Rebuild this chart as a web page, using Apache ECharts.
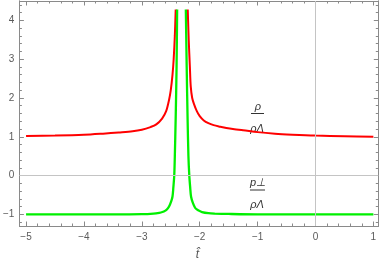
<!DOCTYPE html>
<html>
<head>
<meta charset="utf-8">
<script src="https://cdn.jsdelivr.net/npm/echarts@6/dist/echarts.min.js"></script>
<style>
html,body{margin:0;padding:0;background:#fff;}
#c{width:382px;height:266px;}
</style>
</head>
<body>
<div id="c"></div>
<script>
// ---- data ----
const redLeftT  = [-5.0,-4.5,-4.0,-3.67,-3.4,-3.16,-3.0,-2.85,-2.75,-2.65,-2.58,-2.53,-2.5,-2.47,-2.45,-2.43,-2.415];
const redLeftV  = [1.02,1.03,1.05,1.08,1.11,1.14,1.18,1.25,1.32,1.47,1.66,1.95,2.2,2.6,3.0,3.6,4.28];
const redRightT = [-2.207,-2.19,-2.17,-2.155,-2.13,-2.10,-2.05,-2.0,-1.93,-1.85,-1.76,-1.65,-1.54,-1.4,-1.25,-1.0,-0.7,-0.4,0,0.5,1.0];
const redRightV = [4.28,3.5,2.8,2.3,2.0,1.85,1.66,1.53,1.42,1.35,1.30,1.26,1.225,1.195,1.17,1.12,1.08,1.055,1.03,1.013,1.0];
const greenLeftT  = [-5.0,-3.5,-3.0,-2.8,-2.7,-2.645,-2.6,-2.56,-2.53,-2.49,-2.47,-2.455,-2.44,-2.43,-2.415,-2.40,-2.39];
const greenLeftV  = [-1.0,-1.0,-0.995,-0.98,-0.96,-0.94,-0.91,-0.86,-0.80,-0.65,-0.54,-0.3,0.0,0.5,1.5,2.8,4.28];
const greenRightT = [-2.24,-2.225,-2.21,-2.195,-2.18,-2.165,-2.15,-2.12,-2.08,-2.05,-2.02,-1.96,-1.85,-1.74,-1.5,-1.0,1.0];
const greenRightV = [4.28,2.8,1.5,0.5,0.0,-0.3,-0.54,-0.70,-0.83,-0.87,-0.90,-0.94,-0.97,-0.98,-0.99,-1.0,-1.0];
const xTicks = [-5,-4,-3,-2,-1,0,1];
const yTicks = [-1,0,1,2,3,4];
const xMinor = [];
for (let i = -25; i <= 5; i++) if (i % 5 !== 0) xMinor.push(+(i*0.2).toFixed(1));
const yMinor = [];
for (let i = -6; i <= 22; i++) if (i % 5 !== 0) yMinor.push(+(i*0.2).toFixed(1));

function pairs(t, v){ return t.map((x,i)=>[x, v[i]]); }
const redData = pairs(redLeftT, redLeftV).concat([[-2.32, null]], pairs(redRightT, redRightV));
const greenData = pairs(greenLeftT, greenLeftV).concat([[-2.32, null]], pairs(greenRightT, greenRightV));

const AX = '#8a8a8a';
const LBL = '#5a5a5a';
const FONT = 'Liberation Sans, Arial, sans-serif';
const fmt = v => (v < 0 ? '\u2212' + Math.abs(v) : String(v));

function xAx(pos, ticks, len, labels){
  return {
    type:'value', position:pos, min:-5.115, max:1.085, scale:true,
    axisLine:{show:true, onZero:false, lineStyle:{color:AX, width:1}},
    axisTick:{show:true, inside:true, length:len, customValues:ticks, lineStyle:{color:AX, width:1}},
    axisLabel:{show:labels, customValues:ticks, formatter:fmt, color:LBL, fontSize:10, fontFamily:FONT, margin:6},
    splitLine:{show:false}
  };
}
function yAx(pos, ticks, len, labels){
  return {
    type:'value', position:pos, min:-1.30, max:4.50, scale:true,
    axisLine:{show:true, onZero:false, lineStyle:{color:AX, width:1}},
    axisTick:{show:true, inside:true, length:len, customValues:ticks, lineStyle:{color:AX, width:1}},
    axisLabel:{show:labels, customValues:ticks, formatter:fmt, color:LBL, fontSize:10, fontFamily:FONT, margin:5},
    splitLine:{show:false}
  };
}

const chart = echarts.init(document.getElementById('c'), null, {renderer:'canvas'});
chart.setOption({
  animation:false,
  backgroundColor:'#fff',
  grid:{left:15.3, right:3.7, top:1, bottom:40, containLabel:false},
  xAxis:[xAx('bottom', xTicks, 4.5, true), xAx('bottom', xMinor, 2.5, false),
         xAx('top', xTicks, 4.5, false), xAx('top', xMinor, 2.5, false)],
  yAxis:[yAx('left', yTicks, 4.5, true), yAx('left', yMinor, 2.5, false),
         yAx('right', yTicks, 4.5, false), yAx('right', yMinor, 2.5, false)],
  series:[
    {
      type:'line', xAxisIndex:0, yAxisIndex:0, data:[], silent:true,
      markLine:{silent:true, symbol:'none', label:{show:false},
        lineStyle:{color:'#c4c4c4', width:1, type:'solid'},
        data:[{xAxis:0},{yAxis:0}]}
    },
    {type:'line', name:'rho', xAxisIndex:0, yAxisIndex:0, data:redData, showSymbol:false, smooth:0.3,
     connectNulls:false, lineStyle:{color:'#ff0000', width:2}, itemStyle:{color:'#ff0000'}, clip:true},
    {type:'line', name:'p', xAxisIndex:0, yAxisIndex:0, data:greenData, showSymbol:false, smooth:0.3,
     connectNulls:false, lineStyle:{color:'#00f000', width:2.3}, itemStyle:{color:'#00f000'}, clip:true}
  ],
  graphic:[
    {type:'text', x:258, y:107, style:{text:'\u03c1', font:'italic 11px '+FONT, fill:'#333', align:'center', verticalAlign:'middle'}},
    {type:'line', shape:{x1:251, y1:113.5, x2:264, y2:113.5}, style:{stroke:'#333', lineWidth:1}},
    {type:'text', x:257, y:129, style:{text:'\u03c1\u039b', font:'italic 11px '+FONT, fill:'#333', align:'center', verticalAlign:'middle'}},
    {type:'text', x:258, y:183, style:{text:'p\u22a5', font:'italic 11px '+FONT, fill:'#333', align:'center', verticalAlign:'middle'}},
    {type:'line', shape:{x1:250, y1:190, x2:265, y2:190}, style:{stroke:'#333', lineWidth:1}},
    {type:'text', x:257, y:205, style:{text:'\u03c1\u039b', font:'italic 11px '+FONT, fill:'#333', align:'center', verticalAlign:'middle'}},
    {type:'text', x:197.5, y:255, style:{text:'t\u0302', font:'italic 12px '+FONT, fill:'#555', align:'center', verticalAlign:'middle'}}
  ]
});
</script>
</body>
</html>
